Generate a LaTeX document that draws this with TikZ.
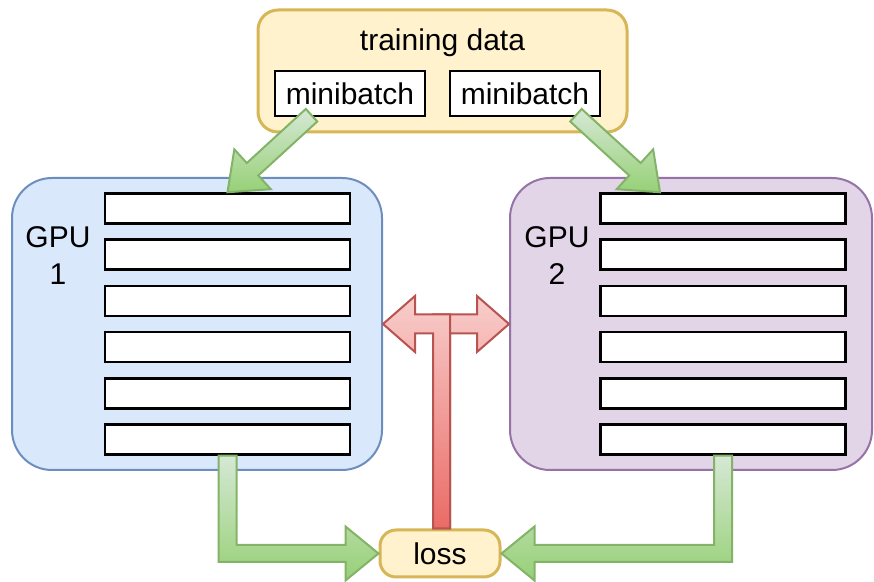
\documentclass[tikz,border=0pt]{standalone}
\usepackage{fontspec}
\setmainfont{Liberation Sans}
\usetikzlibrary{calc}

\definecolor{yellowFill}{HTML}{FFF2CC}
\definecolor{yellowLine}{HTML}{D6B656}
\definecolor{blueFill}{HTML}{DAE8FC}
\definecolor{blueLine}{HTML}{6C8EBF}
\definecolor{purpleFill}{HTML}{E1D5E7}
\definecolor{purpleLine}{HTML}{9673A6}
\definecolor{greenTop}{HTML}{D5E8D4}
\definecolor{greenBot}{HTML}{97D077}
\definecolor{greenLine}{HTML}{82B366}
\definecolor{redTop}{HTML}{F8CECC}
\definecolor{redBot}{HTML}{EA6B66}
\definecolor{redLine}{HTML}{B85450}

\tikzset{
  databox/.style={draw=yellowLine, fill=yellowFill, line width=1.5pt, rounded corners=10pt, inner sep=0pt},
  gpubox/.style={line width=1pt, rounded corners=20pt, minimum height=146pt, inner sep=0pt},
  batch/.style={draw=black, fill=white, line width=1.2pt, minimum width=75pt, minimum height=22.5pt, inner sep=0pt},
  layer/.style={draw=black, fill=white, line width=1.25pt, minimum width=122.5pt, minimum height=15pt, inner sep=0pt},
  greenarrow/.style={draw=greenLine, line width=1pt, top color=greenTop, bottom color=greenBot},
  redarrow/.style={draw=redLine, line width=1pt, top color=redTop, bottom color=redBot}
}

\begin{document}
\begin{tikzpicture}[x=0.5pt, y=0.5pt, font=\fontsize{15}{18.5}\selectfont]
	\useasboundingbox (0,0) rectangle (874,-582);

	% training data
	\node[databox, minimum width=184.5pt, minimum height=61pt] (data) at (442.5,-71) {};
	\node (datatitle) at (442.5,-43) {training data};
	\node[batch] (mb1) at (350,-93.5) {minibatch};
	\node[batch] (mb2) at (525,-93.5) {minibatch};

	% gpus
	\node[gpubox, draw=blueLine, fill=blueFill, minimum width=185pt] (gpu1) at (197,-324) {};
	\node[gpubox, draw=purpleLine, fill=purpleFill, minimum width=181pt] (gpu2) at (691,-324) {};
	\node[align=center] (gpu1label) at (58,-256) {GPU\\1};
	\node[align=center] (gpu2label) at (557,-256) {GPU\\2};
	\foreach \i in {1,...,6} {
		\node[layer] (g1l\i) at (227.5,{-208.5-46.2*(\i-1)}) {};
		\node[layer] (g2l\i) at (723,{-208.5-46.2*(\i-1)}) {};
	}

	\node[databox, minimum width=60pt, minimum height=23.5pt, rounded corners=8pt] (loss) at (440,-553.5) {loss};

	% minibatch -> gpu
	\coordinate (tip1) at (g1l1.north);
	\coordinate (tip2) at ($(g2l1.north)+(-63,0)$);
	\begin{scope}[shift={(tip1)}, rotate=222.5]
		\path[greenarrow] (0,0) -- (-34,27) -- (-34,8.5) -- (-114,8.5) -- (-114,-8.5) -- (-34,-8.5) -- (-34,-27) -- cycle;
	\end{scope}
	\begin{scope}[shift={(tip2)}, rotate=317.5]
		\path[greenarrow] (0,0) -- (-34,27) -- (-34,8.5) -- (-114,8.5) -- (-114,-8.5) -- (-34,-8.5) -- (-34,-27) -- cycle;
	\end{scope}

	% gpu -> loss
	\coordinate (c1) at (g1l6.south |- loss.west);
	\coordinate (c2) at (g2l6.south |- loss.east);
	\path[greenarrow] ($(g1l6.south)+(-9,0)$) -- ($(c1)+(-9,-8.5)$) -- ($(loss.west)+(-33,-8.5)$) -- ($(loss.west)+(-33,-27)$) -- (loss.west)
		-- ($(loss.west)+(-33,27)$) -- ($(loss.west)+(-33,8.5)$) -- ($(c1)+(9,8.5)$) -- ($(g1l6.south)+(9,0)$) -- cycle;
	\path[greenarrow] ($(g2l6.south)+(9,0)$) -- ($(c2)+(9,-8.5)$) -- ($(loss.east)+(33,-8.5)$) -- ($(loss.east)+(33,-27)$) -- (loss.east)
		-- ($(loss.east)+(33,27)$) -- ($(loss.east)+(33,8.5)$) -- ($(c2)+(-9,8.5)$) -- ($(g2l6.south)+(-9,0)$) -- cycle;

	% loss -> gpus
	\coordinate (rc) at ($(loss.north |- gpu1.east)+(1.5,0)$);
	\coordinate (rs) at ($(loss.north)+(1.5,0)$);
	\path[redarrow] ($(rs)+(8.5,0)$) -- ($(rc)+(8.5,-9.5)$) -- ($(gpu2.west)+(-32,-9.5)$) -- ($(gpu2.west)+(-32,-28)$) -- (gpu2.west)
		-- ($(gpu2.west)+(-32,28)$) -- ($(gpu2.west)+(-32,9.5)$) -- ($(rc)+(-8.5,9.5)$) -- ($(rs)+(-8.5,0)$) -- cycle;
	\path[redarrow] ($(rs)+(-8.5,0)$) -- ($(rc)+(-8.5,-9.5)$) -- ($(gpu1.east)+(32,-9.5)$) -- ($(gpu1.east)+(32,-28)$) -- (gpu1.east)
		-- ($(gpu1.east)+(32,28)$) -- ($(gpu1.east)+(32,9.5)$) -- ($(rc)+(8.5,9.5)$) -- ($(rs)+(8.5,0)$) -- cycle;
\end{tikzpicture}
\end{document}
